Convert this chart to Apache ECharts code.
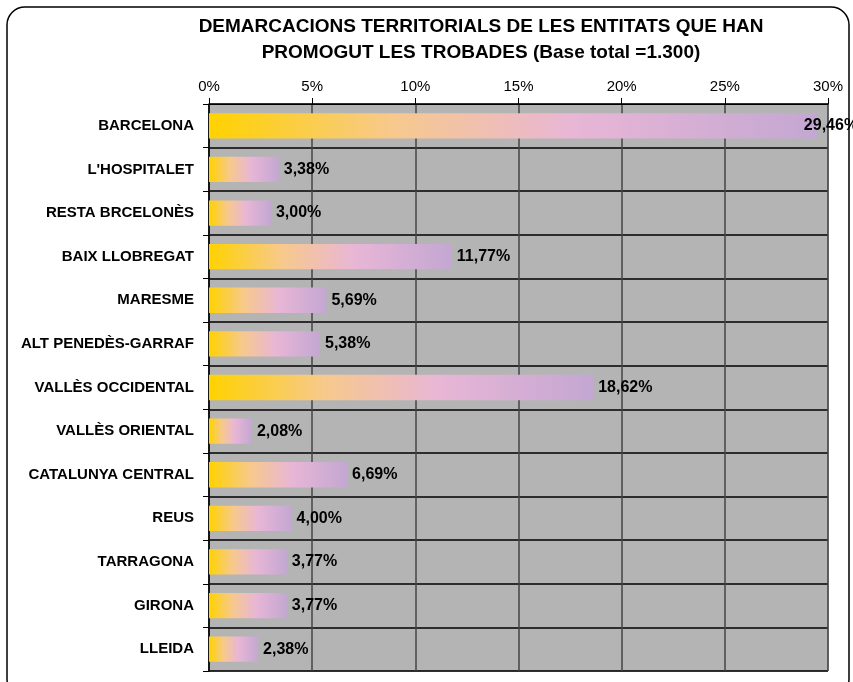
<!DOCTYPE html>
<html>
<head>
<meta charset="utf-8">
<script src="https://cdn.jsdelivr.net/npm/echarts@6/dist/echarts.min.js"></script>
<style>
  html, body { margin: 0; padding: 0; background: #fff; }
  #chart { width: 853px; height: 682px; }
</style>
</head>
<body>
<div id="chart"></div>
<script>
// dades
var categories = ['BARCELONA', "L'HOSPITALET", 'RESTA BRCELONÈS', 'BAIX LLOBREGAT', 'MARESME',
  'ALT PENEDÈS-GARRAF', 'VALLÈS OCCIDENTAL', 'VALLÈS ORIENTAL', 'CATALUNYA CENTRAL',
  'REUS', 'TARRAGONA', 'GIRONA', 'LLEIDA']
var percentages = [29.46, 3.38, 3.00, 11.77, 5.69, 5.38, 18.62, 2.08, 6.69, 4.00, 3.77, 3.77, 2.38]
var axisMin = 0
var axisMax = 30
var axisStep = 5

var chart = echarts.init(document.getElementById('chart'))

var barGradient = new echarts.graphic.LinearGradient(0, 0, 1, 0, [
  { offset: 0, color: '#ffd200' },
  { offset: 0.3, color: '#f7c98c' },
  { offset: 0.6, color: '#e8b6d6' },
  { offset: 1, color: '#c3a7d2' }
])

// l'etiqueta de la barra més llarga es desplaça cap a dins, com a l'original
var barData = percentages.map(function (v, i) {
  if (i === 0) return { value: v, label: { offset: [-18, 0] } }
  return v
})

var option = {
  animation: false,
  textStyle: { fontFamily: 'Liberation Sans, Arial, sans-serif' },
  title: {
    text: 'DEMARCACIONS TERRITORIALS DE LES ENTITATS QUE HAN\nPROMOGUT LES TROBADES (Base total =1.300)',
    left: 476,
    top: 9,
    textAlign: 'center',
    textStyle: { fontSize: 19, fontWeight: 'bold', color: '#000', lineHeight: 26 }
  },
  graphic: [
    {
      type: 'rect',
      shape: { x: 7, y: 7, width: 842, height: 690, r: 18 },
      style: { fill: 'none', stroke: '#000', lineWidth: 1.5 },
      silent: true
    }
  ],
  grid: {
    left: 209,
    right: 25,
    top: 104,
    bottom: 11,
    show: true,
    backgroundColor: '#b4b4b4',
    borderColor: '#7a7a7a',
    borderWidth: 1
  },
  xAxis: {
    type: 'value',
    position: 'top',
    min: axisMin,
    max: axisMax,
    interval: axisStep,
    axisLine: { show: true, lineStyle: { color: '#000', width: 1 } },
    axisTick: { show: true, length: 6, lineStyle: { color: '#000' } },
    axisLabel: {
      formatter: '{value}%',
      color: '#000',
      fontSize: 15,
      margin: 10
    },
    splitLine: { show: true, lineStyle: { color: '#444', width: 1.5 } }
  },
  yAxis: {
    type: 'category',
    inverse: true,
    data: categories,
    axisLine: { show: true, lineStyle: { color: '#000', width: 1.5 } },
    axisTick: { show: true, length: 6, lineStyle: { color: '#000' } },
    axisLabel: {
      color: '#000',
      fontSize: 15,
      fontWeight: 'bold',
      margin: 15
    },
    splitLine: { show: true, lineStyle: { color: '#000', width: 1.5 } }
  },
  series: [
    {
      type: 'bar',
      data: barData,
      barWidth: '58%',
      itemStyle: { color: barGradient },
      label: {
        show: true,
        position: 'right',
        distance: 5,
        color: '#000',
        fontSize: 16,
        fontWeight: 'bold',
        formatter: function (p) {
          return p.value.toFixed(2).replace('.', ',') + '%'
        }
      }
    }
  ]
}

chart.setOption(option)
</script>
</body>
</html>
